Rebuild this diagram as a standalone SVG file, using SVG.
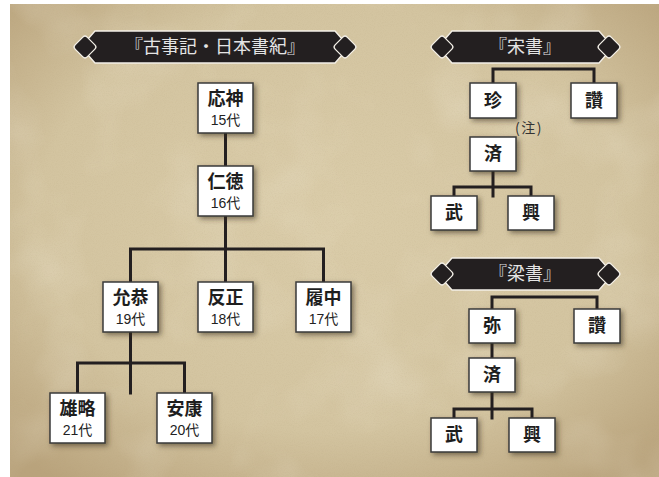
<svg xmlns="http://www.w3.org/2000/svg" width="659" height="477" viewBox="0 0 659 477">
<style>
.box{fill:#fff;stroke:#3a3a3a;stroke-width:1.5;filter:url(#sh)}
.nm{font-family:"Noto Sans CJK JP","Noto Sans CJK SC",sans-serif;font-weight:bold;font-size:18px;fill:#1e1e1e;text-anchor:middle}
.gen{font-family:"Liberation Sans","Noto Sans CJK JP",sans-serif;font-size:14px;fill:#222;text-anchor:middle}
.ttl{font-family:"Noto Sans CJK JP","Noto Sans CJK SC",sans-serif;font-size:18px;fill:#e4e4e4;text-anchor:middle}
.bn{fill:#231f20;stroke:#f4f0e8;stroke-width:1.3;stroke-linejoin:round}
.ln{fill:none;stroke:#231f20;stroke-width:3;stroke-linecap:square}
.note{font-family:"Noto Sans CJK JP",sans-serif;font-size:14px;letter-spacing:1.5px;fill:#333;text-anchor:middle}
</style>
<defs>
<radialGradient id="bg" cx="50%" cy="45%" r="70%">
<stop offset="0" stop-color="#dacca9"/>
<stop offset="0.65" stop-color="#d3c4a0"/>
<stop offset="1" stop-color="#b9a37c"/>
</radialGradient>
<filter id="paper" x="0" y="0" width="100%" height="100%">
<feTurbulence type="fractalNoise" baseFrequency="0.9" numOctaves="2" seed="3" result="n"/>
<feColorMatrix in="n" type="matrix" values="0 0 0 0 0.45  0 0 0 0 0.36  0 0 0 0 0.2  0 0 0 -1.3 0.75"/>
</filter>
<filter id="blot" x="0" y="0" width="100%" height="100%">
<feTurbulence type="fractalNoise" baseFrequency="0.012" numOctaves="3" seed="7" result="n"/>
<feColorMatrix in="n" type="matrix" values="0 0 0 0 0.95  0 0 0 0 0.91  0 0 0 0 0.8  0 0 0 1.6 -0.75"/>
</filter>
<filter id="sh" x="-30%" y="-30%" width="170%" height="170%">
<feDropShadow dx="2.5" dy="2.5" stdDeviation="2.5" flood-color="#3a2e1c" flood-opacity="0.55"/>
</filter>
</defs>

<g id="background">
<rect x="10" y="4" width="649" height="473" fill="url(#bg)"/>
<rect x="10" y="4" width="649" height="473" filter="url(#blot)" opacity="0.3"/>
<rect x="10" y="4" width="649" height="473" filter="url(#paper)" opacity="0.2"/>
</g>

<g id="banner-kojiki">
<path class="bn" d="M95,31 H335 L349,47 L335,63 H95 L81,47 Z"/>
<rect class="bn" x="76.5" y="38.5" width="17" height="17" rx="3" transform="rotate(45 85 47)"/>
<rect class="bn" x="336.5" y="38.5" width="17" height="17" rx="3" transform="rotate(45 345 47)"/>
<text class="ttl" x="215" y="53">『古事記・日本書紀』</text>
</g>
<g id="banner-sosho">
<path class="bn" d="M452,31 H599 L613,47 L599,63 H452 L438,47 Z"/>
<rect class="bn" x="433.5" y="38.5" width="17" height="17" rx="3" transform="rotate(45 442 47)"/>
<rect class="bn" x="600.5" y="38.5" width="17" height="17" rx="3" transform="rotate(45 609 47)"/>
<text class="ttl" x="525" y="53">『宋書』</text>
</g>
<g id="banner-ryosho">
<path class="bn" d="M452,258 H599 L613,274 L599,290 H452 L438,274 Z"/>
<rect class="bn" x="433.5" y="265.5" width="17" height="17" rx="3" transform="rotate(45 442 274)"/>
<rect class="bn" x="600.5" y="265.5" width="17" height="17" rx="3" transform="rotate(45 609 274)"/>
<text class="ttl" x="525" y="280">『梁書』</text>
</g>

<g id="connectors">
<path class="ln" d="M225.5,133 V166"/>
<path class="ln" d="M225.5,216 V282 M130.5,282 V249 H323.5 V282"/>
<path class="ln" d="M130.5,332 V393 M77.5,393 V363 H184.5 V393"/>
<path class="ln" d="M493,83 V69 H594 V83"/>
<path class="ln" d="M493,171 V196 M454,196 V187 H531 V196"/>
<path class="ln" d="M492,309 V297 H597 V309"/>
<path class="ln" d="M492,343 V358"/>
<path class="ln" d="M492,392 V418 M454,418 V409 H532 V418"/>
</g>

<g id="node-ojin"><rect class="box" x="198" y="83" width="55" height="50"/><text class="nm" x="225.5" y="105">応神</text><text class="gen" x="225.5" y="125">15代</text></g>
<g id="node-nintoku"><rect class="box" x="198" y="166" width="55" height="50"/><text class="nm" x="225.5" y="188">仁徳</text><text class="gen" x="225.5" y="208">16代</text></g>
<g id="node-ingyo"><rect class="box" x="103" y="282" width="55" height="50"/><text class="nm" x="130.5" y="304">允恭</text><text class="gen" x="130.5" y="324">19代</text></g>
<g id="node-hanzei"><rect class="box" x="198" y="282" width="55" height="50"/><text class="nm" x="225.5" y="304">反正</text><text class="gen" x="225.5" y="324">18代</text></g>
<g id="node-richu"><rect class="box" x="296" y="282" width="55" height="50"/><text class="nm" x="323.5" y="304">履中</text><text class="gen" x="323.5" y="324">17代</text></g>
<g id="node-yuryaku"><rect class="box" x="50" y="393" width="55" height="50"/><text class="nm" x="77.5" y="415">雄略</text><text class="gen" x="77.5" y="435">21代</text></g>
<g id="node-anko"><rect class="box" x="157" y="393" width="55" height="50"/><text class="nm" x="184.5" y="415">安康</text><text class="gen" x="184.5" y="435">20代</text></g>

<g id="node-so-chin"><rect class="box" x="470" y="83" width="46" height="35"/><text class="nm" x="493" y="107">珍</text></g>
<g id="node-so-san"><rect class="box" x="571" y="83" width="46" height="35"/><text class="nm" x="594" y="107">讚</text></g>
<text class="note" x="529" y="133">(注)</text>
<g id="node-so-sei"><rect class="box" x="470" y="137" width="46" height="34"/><text class="nm" x="493" y="160">済</text></g>
<g id="node-so-bu"><rect class="box" x="431" y="196" width="46" height="34"/><text class="nm" x="454" y="219">武</text></g>
<g id="node-so-ko"><rect class="box" x="508" y="196" width="46" height="34"/><text class="nm" x="531" y="219">興</text></g>

<g id="node-ryo-mi"><rect class="box" x="469" y="309" width="46" height="34"/><text class="nm" x="492" y="332">弥</text></g>
<g id="node-ryo-san"><rect class="box" x="574" y="309" width="46" height="34"/><text class="nm" x="597" y="332">讚</text></g>
<g id="node-ryo-sei"><rect class="box" x="469" y="358" width="46" height="34"/><text class="nm" x="492" y="381">済</text></g>
<g id="node-ryo-bu"><rect class="box" x="431" y="418" width="46" height="34"/><text class="nm" x="454" y="441">武</text></g>
<g id="node-ryo-ko"><rect class="box" x="509" y="418" width="46" height="34"/><text class="nm" x="532" y="441">興</text></g>
</svg>
